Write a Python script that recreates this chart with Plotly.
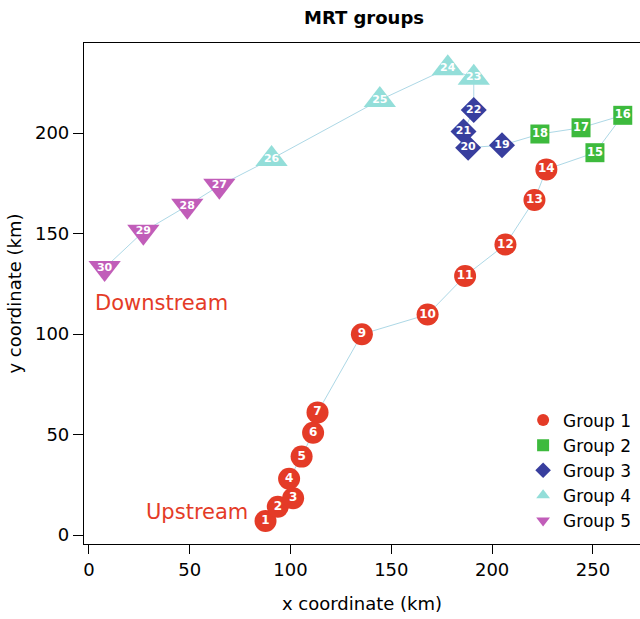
import plotly.graph_objects as go

# ---- data ----
site = [1, 2, 3, 4, 5, 6, 7, 9, 10, 11, 12, 13, 14,
        15, 16, 17, 18,
        19, 20, 21, 22,
        23, 24, 25, 26,
        27, 28, 29, 30]
x_km = [87.6, 93.7, 101.3, 99.3, 105.5, 111.2, 113.4, 135.4, 168.0, 186.6, 206.6, 221.0, 226.9,
        251.0, 264.8, 244.1, 223.7,
        204.9, 188.1, 185.8, 190.9,
        190.9, 178.0, 144.3, 90.6,
        64.7, 48.8, 27.0, 7.8]
y_km = [7.0, 14.1, 18.3, 28.0, 39.0, 50.9, 61.0, 99.9, 109.7, 128.9, 144.5, 166.7, 181.9,
        190.2, 208.8, 202.6, 199.5,
        193.9, 192.7, 200.8, 211.4,
        227.5, 232.2, 216.4, 187.1,
        173.8, 163.8, 150.9, 132.8]
group = [1] * 13 + [2] * 4 + [3] * 4 + [4] * 4 + [5] * 4

group_names = ["Group 1", "Group 2", "Group 3", "Group 4", "Group 5"]
group_colors = ["#E43B27", "#3DBA3D", "#383E9E", "#93DED9", "#C15DB9"]
group_symbols = ["circle", "square", "diamond", "triangle-up", "triangle-down"]
group_sizes = [22, 19, 20, 28, 28]
group_text_sizes = [12, 11.5, 11, 11, 11]

x_ticks = [0, 50, 100, 150, 200, 250]
y_ticks = [0, 50, 100, 150, 200]

FONT = "DejaVu Sans"

fig = go.Figure()

# connecting line through the sites in order
fig.add_trace(go.Scatter(
    x=x_km, y=y_km, mode="lines",
    line=dict(color="#ADD8E6", width=1),
    showlegend=False, hoverinfo="skip"))

for g in range(5):
    idx = [i for i, gg in enumerate(group) if gg == g + 1]
    fig.add_trace(go.Scatter(
        x=[x_km[i] for i in idx],
        y=[y_km[i] for i in idx],
        text=[str(site[i]) for i in idx],
        mode="markers+text",
        name=group_names[g],
        marker=dict(symbol=group_symbols[g], size=group_sizes[g],
                    color=group_colors[g], line=dict(width=0)),
        textposition="middle center",
        textfont=dict(family=FONT, size=group_text_sizes[g], color="white",
                      weight="bold"),
    ))

fig.add_annotation(x=1.9, y=115.4, text="Downstream", showarrow=False,
                   xanchor="left", yanchor="middle",
                   font=dict(family=FONT, size=21, color=group_colors[0]))
fig.add_annotation(x=79.8, y=11.6, text="Upstream", showarrow=False,
                   xanchor="right", yanchor="middle",
                   font=dict(family=FONT, size=21, color=group_colors[0]))

fig.update_layout(
    width=640, height=619,
    margin=dict(l=84, r=0, t=43, b=75, autoexpand=False),
    paper_bgcolor="white", plot_bgcolor="white",
    font=dict(family=FONT, size=18, color="black"),
    title=dict(text="<b>MRT groups</b>", x=364 / 640, xref="container",
               xanchor="center", y=1 - 18 / 619, yref="container",
               yanchor="middle", font=dict(family=FONT, size=18, color="black")),
    showlegend=True,
    legend=dict(x=0.993, xanchor="right", y=0.011, yanchor="bottom",
                bgcolor="rgba(0,0,0,0)", itemsizing="constant",
                font=dict(family=FONT, size=17, color="black"),
                tracegroupgap=0),
)

fig.update_xaxes(
    range=[-2.43, 273.35], tickmode="array", tickvals=x_ticks,
    ticks="outside", ticklen=9, tickwidth=1, tickcolor="black",
    showline=True, linecolor="black", linewidth=1.2, mirror=True,
    showgrid=False, zeroline=False, automargin=False,
    title=dict(text="x coordinate (km)", standoff=18,
               font=dict(family=FONT, size=18)),
    tickfont=dict(family=FONT, size=18),
)
fig.update_yaxes(
    range=[-4.48, 244.78], tickmode="array", tickvals=y_ticks,
    ticks="outside", ticklen=10, tickwidth=1, tickcolor="black",
    showline=True, linecolor="black", linewidth=1.2,
    showgrid=False, zeroline=False, automargin=False,
    title=dict(text="y coordinate (km)", standoff=8,
               font=dict(family=FONT, size=18)),
    tickfont=dict(family=FONT, size=18),
)

fig.write_html(
    "out.html",
    config={"displayModeBar": False},
    post_script="document.body.style.margin='0';document.body.style.overflow='hidden';",
)
